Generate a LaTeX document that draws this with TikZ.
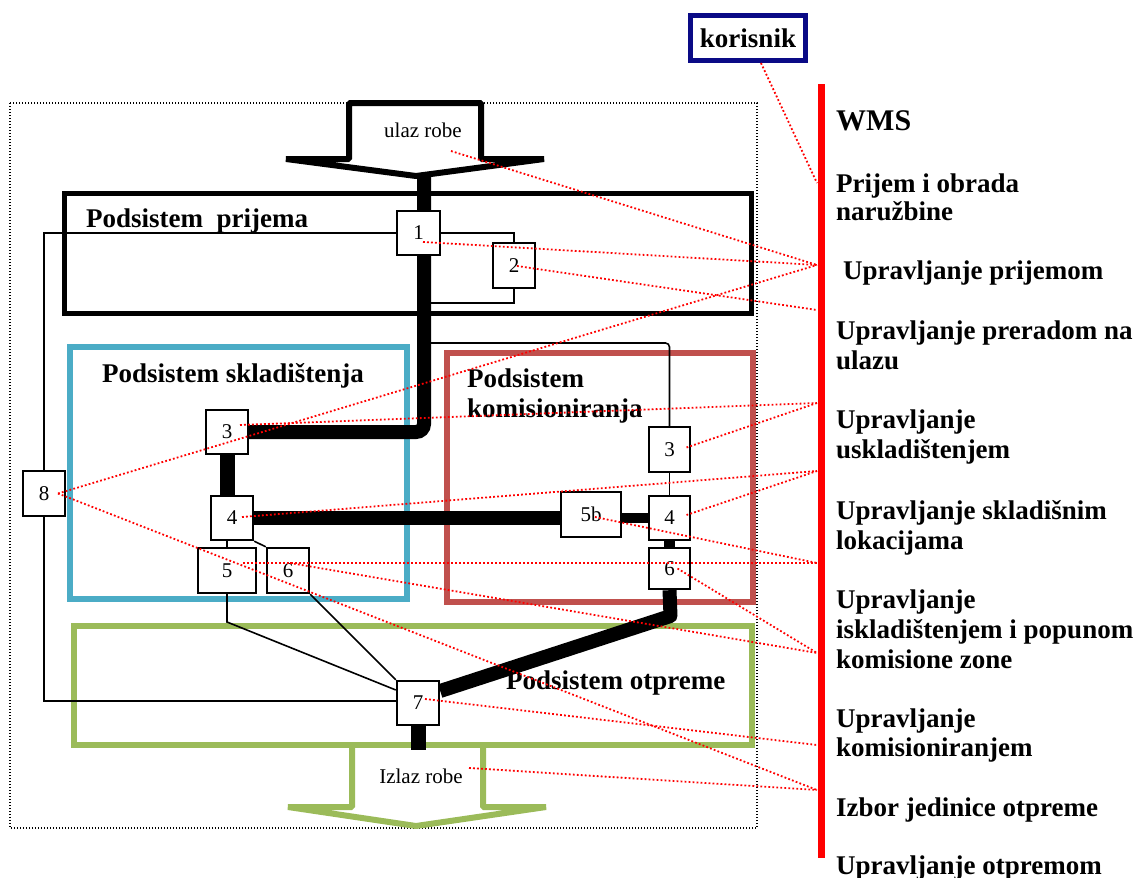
\documentclass[tikz,border=0pt]{standalone}
\usepackage{fontspec}
\setmainfont{Liberation Serif}
\usetikzlibrary{calc}
\definecolor{skyb}{HTML}{4BACC6}
\definecolor{brick}{HTML}{C0504D}
\definecolor{leaf}{HTML}{9BBB59}
\definecolor{navyb}{HTML}{0A0A86}
\pgfdeclarelayer{back}
\pgfsetlayers{back,main}
\begin{document}
\begin{tikzpicture}[x=1pt,y=-1pt,
  box/.style={draw, line width=2.4pt, fill=white, inner sep=0pt,
    minimum width=42pt, minimum height=44pt, font=\fontsize{21}{24}\selectfont},
  thinline/.style={line width=1.6pt},
  heavy/.style={line width=14pt},
  hint/.style={red, line width=1.8pt, dash pattern=on 1.8pt off 2.2pt},
  frame/.style={line width=1.3pt, dash pattern=on 1.4pt off 1.6pt},
  sub/.style={font=\fontsize{27}{30}\selectfont\bfseries, anchor=west, inner sep=0pt},
  lbl/.style={font=\fontsize{27}{30}\selectfont\bfseries, anchor=base west, inner sep=0pt},
  plain/.style={font=\fontsize{21}{24}\selectfont, inner sep=0pt}]
\useasboundingbox (0,0) rectangle (1144,878);

% process boxes
\node[box, minimum width=43pt] (b1) at (418.5,233) {1};
\node[box, minimum height=45pt] (b2) at (514,265.5) {2};
\node[box] (b3L) at (227,432) {3};
\node[box] (b4L) at (232,518) {4};
\node[box, minimum width=58pt, minimum height=45pt] (b5) at (227,570.5) {5};
\node[box, minimum height=45pt] (b6L) at (288,570.5) {6};
\node[box, minimum width=41pt, minimum height=45pt] (b3R) at (669.5,449.5) {3};
\node[box, minimum width=41pt] (b4R) at (669.5,518) {4};
\node[box, minimum width=41pt, minimum height=41pt] (b6R) at (669.5,568.5) {6};
\node[box, minimum width=60pt, minimum height=45pt] (b5b) at (591,514.5) {5b};
\node[box] (b7) at (418,703) {7};
\node[box, minimum height=45pt] (b8) at (44,493.5) {8};

\begin{pgfonlayer}{back}
  % outer boundary
  \draw[frame] (10,103) rectangle (757,828);
  % subsystems
  \draw[line width=5pt] (64,193) rectangle (751,313);
  \draw[skyb, line width=6pt] (70,347) rectangle (407,599);
  \draw[brick, line width=6pt] (447,353) rectangle (753,602);
  \draw[leaf, line width=6pt] (74,626) rectangle (752,745);

  % incoming goods arrow
  \draw[line width=6pt, fill=white, line join=bevel]
    (349,103) -- (349,159) -- (286,159) -- (416,176) -- (544,159)
    -- (481,159) -- (481,103) -- cycle;
  \coordinate (tipIn) at (424,176);
  % outgoing goods arrow
  \draw[leaf, line width=6pt, line join=bevel]
    (352,747) -- (352,807) -- (288,807) -- (416,826) -- (546,807)
    -- (483,807) -- (483,747);
  \coordinate (outTop) at (415,750);

  % thin links
  \draw[thinline] (b1.east) -- (b2.north |- b1.east) -- (b2.north);
  \draw[thinline] (b2.south) -- (b2.south |- 0,303) -- (424,303);
  \draw[thinline] (b1.west) -- (44,233) -- (b8.north);
  \draw[thinline] (b8.south) -- (44,701) -- (b7.west |- 0,701);
  \draw[thinline, rounded corners=4pt] (424,343) -- (b3R.north |- 0,343) -- (b3R.north);
  \draw[thinline] (b3R.south) -- (b4R.north);
  \draw[thinline] (b4L.south -| b5.north) -- (b5.north);
  \draw[thinline] (b4L.south east) -- (b6L.north west);
  \draw[thinline] (b5.south) -- (227,622) -- ([yshift=13pt]b7.west);
  \draw[thinline] (b6L.south east) -- (b7.north west);

  % main material flow
  \draw[heavy, rounded corners=8pt] (tipIn) -- (424,432) -- (b3L.east);
  \draw[line width=15pt] (b3L.south) -- (b4L.north -| b3L.south);
  \draw[heavy] (b4L.east) -- (b5b.west |- b4L.east);
  \draw[line width=10pt] (b5b.east |- b4R.west) -- (b4R.west);
  \draw[line width=11pt] (b4R.south) -- (b6R.north);
  \draw[heavy, line join=round] (b6R.south) -- (670.5,616) -- ([yshift=12pt]b7.east);
  \draw[line width=15pt] (b7.south) -- (b7.south |- outTop);
\end{pgfonlayer}

% texts in the flow
\node[plain] (ulaz) at (423,130) {ulaz robe};
\node[plain] (izlaz) at (421,776) {Izlaz robe};
\node[sub] (sPri) at (86,221) {Podsistem\ \ prijema};
\node[sub] (sSkl) at (102,376) {Podsistem skladištenja};
\node[sub, align=left] (sKom) at (467,396) {Podsistem\\komisioniranja};
\node[sub] (sOtp) at (506,683) {Podsistem otpreme};

% user
\node[draw=navyb, line width=5pt, minimum width=115pt, minimum height=45pt,
  font=\fontsize{27}{30}\selectfont\bfseries, inner sep=0pt] (kor) at (748,38) {korisnik};

% WMS column
\draw[red, line width=7pt] (821,84) -- (821,858);
\node[lbl, font=\fontsize{30}{32}\selectfont\bfseries] (wms) at (836,130) {WMS};
\node[lbl] (t1a) at (836,192) {Prijem i obrada};
\node[lbl] (t1b) at (836,220) {naružbine};
\node[lbl] (t2a) at (843,279) {Upravljanje prijemom};
\node[lbl] (t3a) at (836,339) {Upravljanje preradom na};
\node[lbl] (t3b) at (836,369) {ulazu};
\node[lbl] (t4a) at (836,428) {Upravljanje};
\node[lbl] (t4b) at (836,458) {uskladištenjem};
\node[lbl] (t5a) at (836,519) {Upravljanje skladišnim};
\node[lbl] (t5b) at (836,549) {lokacijama};
\node[lbl] (t6a) at (836,608) {Upravljanje};
\node[lbl] (t6b) at (836,638) {iskladištenjem i popunom};
\node[lbl] (t6c) at (836,668) {komisione zone};
\node[lbl] (t7a) at (836,727) {Upravljanje};
\node[lbl] (t7b) at (836,756) {komisioniranjem};
\node[lbl] (t8a) at (836,816) {Izbor jedinice otpreme};
\node[lbl] (t9a) at (836,874) {Upravljanje otpremom};

% points on the WMS bar
\coordinate (hK) at (817,183);
\coordinate (h1) at (817,265);
\coordinate (h2) at (817,310);
\coordinate (h3) at (817,403);
\coordinate (h4) at (817,471);
\coordinate (h5) at (817,563);
\coordinate (h6) at (817,653);
\coordinate (h7) at (817,745);
\coordinate (h8) at (817,790);

% function assignments
\draw[hint] ([xshift=13pt]kor.south) -- (hK);
\draw[hint] ($(ulaz)+(28,21)$) -- (h1);
\draw[hint] ($(b1)+(4.5,9)$) -- (h1);
\draw[hint] ($(b8)+(14,0)$) -- (h1);
\draw[hint] ($(b2)+(3,0.5)$) -- (h2);
\draw[hint] ($(b3L)+(13,-7)$) -- (h3);
\draw[hint] ($(b3R)+(17,-2)$) -- (h3);
\draw[hint] ($(b4L)+(10,-1)$) -- (h4);
\draw[hint] ($(b4R)+(17,-3)$) -- (h4);
\draw[hint] ($(b5)+(16,-7.5)$) -- (h5);
\draw[hint] ($(b5b)+(4,2.5)$) -- (h5);
\draw[hint] ($(b6L)+(2,-7.5)$) -- (h6);
\draw[hint] ($(b6R)+(8,0)$) -- (h6);
\draw[hint] ($(b7)+(7,-4)$) -- (h7);
\draw[hint] ($(b8)+(14,0)$) -- (h8);
\draw[hint] ($(izlaz)+(48,-8)$) -- (h8);
\end{tikzpicture}
\end{document}
